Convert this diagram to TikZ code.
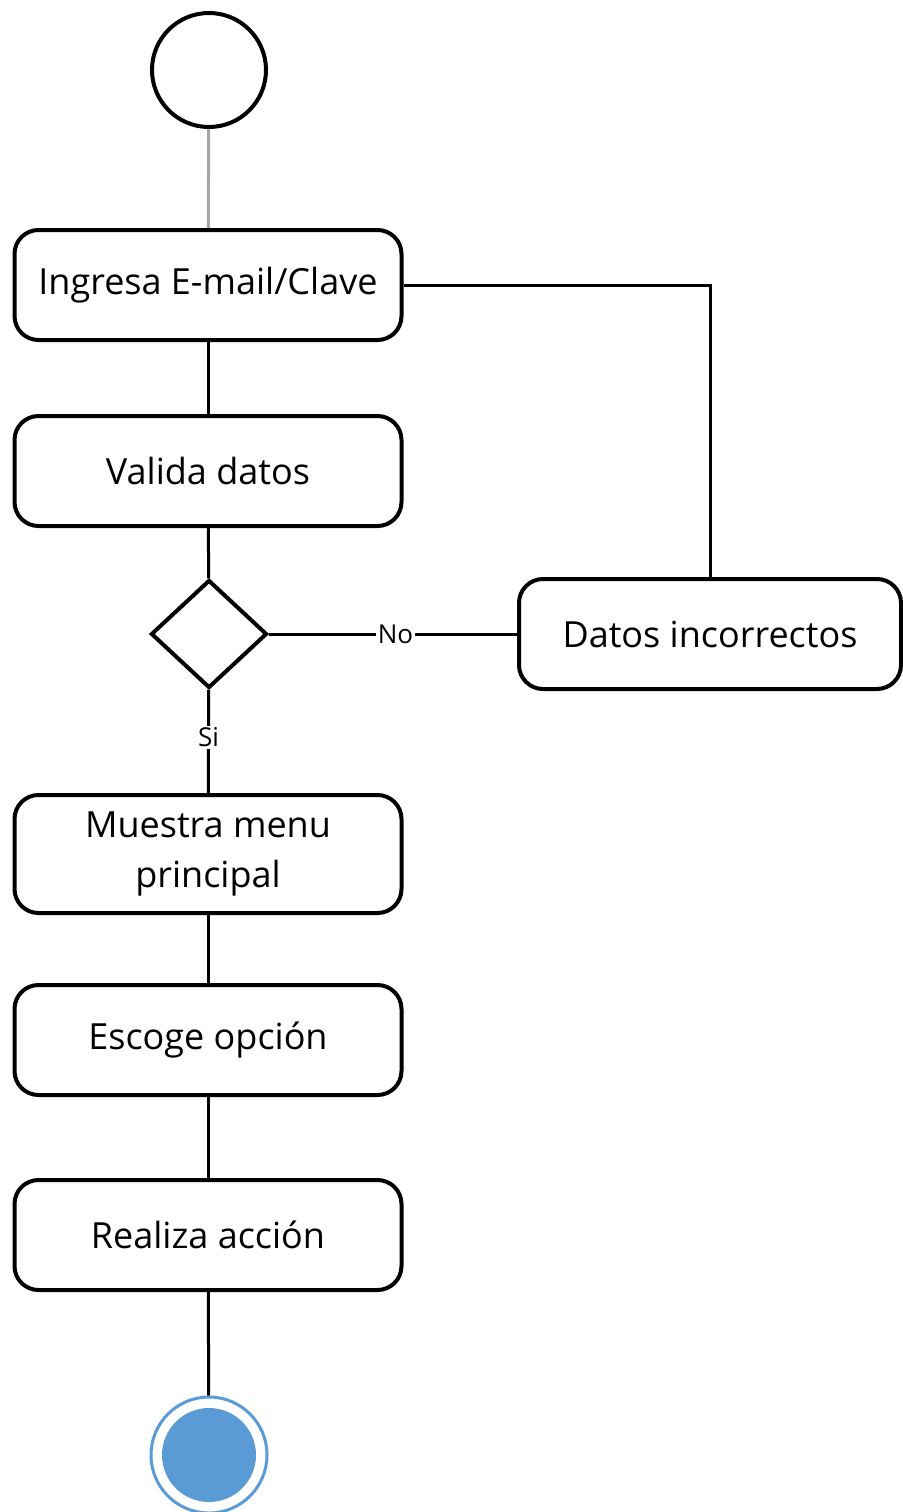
\documentclass[tikz,border=0pt]{standalone}
\usepackage{fontspec}
\setmainfont{Open Sans}
\usetikzlibrary{shapes.geometric}
\definecolor{endblue}{HTML}{5B9BD5}
\begin{document}
\begin{tikzpicture}[x=1pt,y=-1pt,
  actbox/.style={draw=black,line width=4pt,rounded corners=24pt,minimum width=387pt,inner sep=0pt,align=center,font=\fontsize{36}{50}\selectfont},
  conn/.style={line width=3pt,draw=black},
  lbl/.style={fill=white,inner sep=2pt,font=\fontsize{26}{28}\selectfont}]
\useasboundingbox (0,0) rectangle (902,1512);
\node[draw=black,circle,line width=4pt,minimum size=114pt,inner sep=0pt] (start) at (209,70) {};
\node[actbox,minimum height=110pt] (ing) at (208,285) {Ingresa E-mail/Clave};
\node[actbox,minimum height=110pt] (val) at (208,471) {Valida datos};
\node[draw=black,diamond,line width=4pt,minimum width=116pt,minimum height=108pt,inner sep=0pt,aspect=1.1] (dec) at (209,634) {};
\node[actbox,minimum width=382pt,minimum height=110pt] (inc) at (710,634) {Datos incorrectos};
\node[actbox,minimum height=118pt] (menu) at (208,854) {Muestra menu\\principal};
\node[actbox,minimum height=110pt] (esc) at (208,1040) {Escoge opción};
\node[actbox,minimum height=110pt] (rea) at (208,1235) {Realiza acción};
\node[circle,draw=endblue,line width=3pt,minimum size=116pt,inner sep=0pt] (fin) at (209,1455) {};
\node[circle,fill=endblue,minimum size=94pt,inner sep=0pt] (finin) at (fin) {};
\draw[line width=3pt,draw=gray!70] (start) -- (ing);
\draw[conn] (ing) -- (val);
\draw[conn] (val) -- (dec);
\draw[conn] (dec) -- node[lbl,pos=0.46]{Si} (menu);
\draw[conn] (dec) -- node[lbl,pos=0.51]{No} (inc);
\coordinate (corner) at (inc.north |- ing.east);
\draw[conn] (inc.north) -- (corner) -- (ing.east);
\draw[conn] (menu) -- (esc);
\draw[conn] (esc) -- (rea);
\draw[conn] (rea) -- (fin);
\end{tikzpicture}
\end{document}
